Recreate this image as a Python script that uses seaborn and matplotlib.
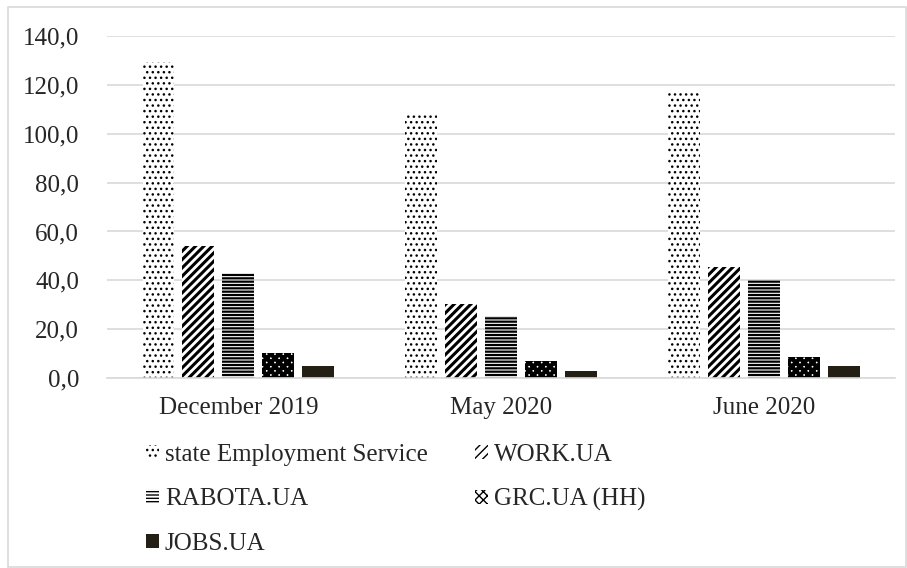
import pandas as pd
import matplotlib.pyplot as plt
import seaborn as sns
from matplotlib.patches import Patch, Rectangle
from matplotlib.ticker import FuncFormatter, MultipleLocator

# Data
periods = ['December 2019', 'May 2020', 'June 2020']
sources = ['state Employment Service', 'WORK.UA', 'RABOTA.UA', 'GRC.UA (HH)', 'JOBS.UA']
ses = [129.5, 107.6, 116.8]
work_ua = [54.0, 30.3, 45.6]
rabota_ua = [43.1, 25.4, 40.1]
grc_ua = [10.1, 7.0, 8.7]
jobs_ua = [4.9, 3.0, 5.0]

series = [ses, work_ua, rabota_ua, grc_ua, jobs_ua]
rows = []
for src, vals in zip(sources, series):
    for p, v in zip(periods, vals):
        rows.append({'period': p, 'source': src, 'value': v})
df = pd.DataFrame(rows)

# styles per source: (face, hatch, hatch linewidth)
styles = [
    ('white', '...', 1.0),
    ('white', '////', 2.2),
    ('white', '-----', 1.6),
    ('white', 'xxxx', 3.0),
    ('#231f14', None, 1.0),
]

sns.set_style('white')
plt.rcParams['font.family'] = ['Liberation Serif', 'DejaVu Serif']
plt.rcParams['font.size'] = 18

fig = plt.figure(figsize=(9.07, 5.68), dpi=100)
ax = fig.add_axes([0.118, 0.3345, 0.869, 0.602])

sns.barplot(data=df, x='period', y='value', hue='source', hue_order=sources,
            order=periods, palette=['white'] * 5, width=0.76, gap=0.2,
            errorbar=None, ax=ax, legend=False)

for cont, (face, hatch, hlw) in zip(ax.containers, styles):
    for bar in cont:
        bar.set_facecolor(face)
        bar.set_edgecolor('black')
        bar.set_linewidth(0)
        if hatch:
            bar.set_hatch(hatch)
            if hasattr(bar, 'set_hatch_linewidth'):
                bar.set_hatch_linewidth(hlw)

ax.set_ylim(0, 140)
ax.yaxis.set_major_locator(MultipleLocator(20))
ax.yaxis.set_major_formatter(FuncFormatter(lambda v, _: f'{v:.1f}'.replace('.', ',')))
ax.grid(axis='y', color='#d9d9d9', linewidth=1.2)
ax.set_axisbelow(True)
for s in ['top', 'right', 'left']:
    ax.spines[s].set_visible(False)
ax.spines['bottom'].set_color('#d9d9d9')
ax.spines['bottom'].set_linewidth(1.2)
ax.tick_params(axis='both', length=0)
ax.tick_params(axis='x', pad=14)
ax.tick_params(axis='y', pad=20)
ax.set_xlabel('')
ax.set_ylabel('')

# legend below the plot, row-wise order
handles = []
for (face, hatch, hlw) in styles:
    h = Patch(facecolor=face, edgecolor='black', linewidth=0, hatch=hatch)
    handles.append(h)
order = [0, 2, 4, 1, 3]
fig.legend([handles[i] for i in order], [sources[i] for i in order],
           loc='upper left', bbox_to_anchor=(0.161, 0.219), ncol=2,
           frameon=False, handlelength=0.5, handleheight=0.5,
           handletextpad=0.25, columnspacing=1.9, labelspacing=0.9,
           borderpad=0, borderaxespad=0, fontsize=18)

# light border round the whole chart
fig.patches.append(Rectangle((8 / 907, 1 / 568), 898 / 907, 560 / 568,
                             transform=fig.transFigure, fill=False,
                             edgecolor='#d9d9d9', linewidth=1.2))

fig.savefig('out.png', dpi=100)
